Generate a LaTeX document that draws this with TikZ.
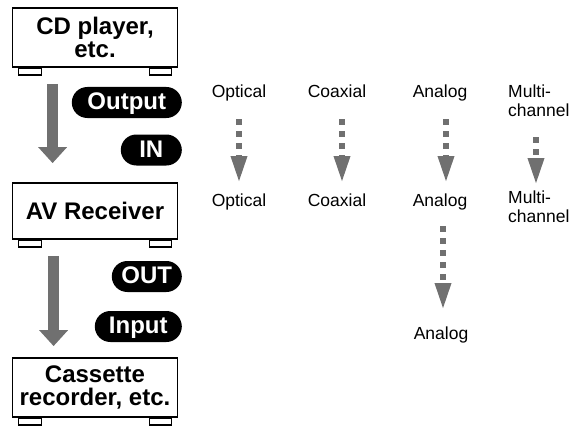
\documentclass[tikz,border=0pt]{standalone}
\usepackage{fontspec}
\setmainfont{Liberation Sans}
\usepackage{tikz}
\usetikzlibrary{arrows.meta,calc}
\definecolor{arrowgray}{RGB}{112,112,112}

\begin{document}
\begin{tikzpicture}[x=1pt,y=-1pt]
		\tikzset{
			device/.style={draw, line width=1.8pt, minimum width=165pt, align=center, inner sep=0pt,
				font=\fontsize{24}{23.5}\selectfont\bfseries},
			foot/.style={draw, line width=1.5pt, fill=white},
			pill/.style={fill=black, text=white, rounded corners=15.5pt, minimum height=31pt, inner sep=0pt,
				text height=17pt, text depth=3pt, font=\fontsize{24}{24}\selectfont\bfseries},
			lbl/.style={inner sep=0pt, font=\fontsize{17.5}{19}\selectfont},
			bigarrow/.style={draw=arrowgray, line width=11pt, -{Triangle[width=28pt,length=16pt]}},
			dotarrow/.style={draw=arrowgray, line width=6pt, dash pattern=on 6pt off 6pt,
				-{Triangle[width=15pt,length=27pt]}}
		}
		\useasboundingbox (0,0) rectangle (576,428);

		% the three devices
		\node[device, minimum height=59pt] (cd) at (95,37.5) {CD player,\\etc.};
		\node[device, minimum height=56pt] (avr) at (95,211) {AV Receiver};
		\node[device, minimum height=59pt] (tape) at (95,387.5) {Cassette\\recorder, etc.};
		\foreach \b in {cd,avr,tape}{
			\draw[foot] ([xshift=7pt]\b.south west) rectangle ([xshift=30pt,yshift=-7pt]\b.south west);
			\draw[foot] ([xshift=-29pt]\b.south east) rectangle ([xshift=-7pt,yshift=-7pt]\b.south east);
		}

		\draw[bigarrow] ([xshift=41pt,yshift=-16pt]cd.south west) -- ([xshift=41pt,yshift=19pt]avr.north west);
		\draw[bigarrow] ([xshift=42pt,yshift=-16pt]avr.south west) -- ([xshift=42pt,yshift=11pt]tape.north west);

		\node[pill, minimum width=110pt, anchor=east] (output) at (182,102.5) {Output};
		\node[pill, minimum width=61pt, anchor=east] (in) at (182,150) {IN};
		\node[pill, minimum width=70pt, anchor=east] (out) at (182,276.5) {OUT};
		\node[pill, minimum width=87pt, anchor=east] (input) at (182,326.5) {Input};

		% connection types
		\node[lbl, anchor=base] (o1) at (239,98) {Optical};
		\node[lbl, anchor=base] (c1) at (337,98) {Coaxial};
		\node[lbl, anchor=base] (a1) at (440,98) {Analog};
		\node[lbl, anchor=north west, align=left] (m1) at (508,85) {Multi-\\channel};
		\node[lbl, anchor=base] (o2) at (239,206) {Optical};
		\node[lbl, anchor=base] (c2) at (337,206) {Coaxial};
		\node[lbl, anchor=base] (a2) at (440,206) {Analog};
		\node[lbl, anchor=north west, align=left] (m2) at (508,191) {Multi-\\channel};
		\node[lbl, anchor=base] (a3) at (441,339) {Analog};

		\draw[dotarrow, shorten <=21pt, shorten >=23pt] (o1.base) -- (o2.base);
		\draw[dotarrow, shorten <=21pt, shorten >=23pt] ([xshift=5pt]c1.base) -- ([xshift=5pt]c2.base);
		\draw[dotarrow, shorten <=21pt, shorten >=23pt] ([xshift=6pt]a1.base) -- ([xshift=6pt]a2.base);
		\draw[dotarrow, shorten <=20pt, shorten >=6pt] ([xshift=28pt]m1.south west) -- ([xshift=28pt]m2.north west);
		\draw[dotarrow, shorten <=20pt, shorten >=29pt] ([xshift=3pt]a2.base) -- ([xshift=2pt]a3.base);

	\end{tikzpicture}
\end{document}
